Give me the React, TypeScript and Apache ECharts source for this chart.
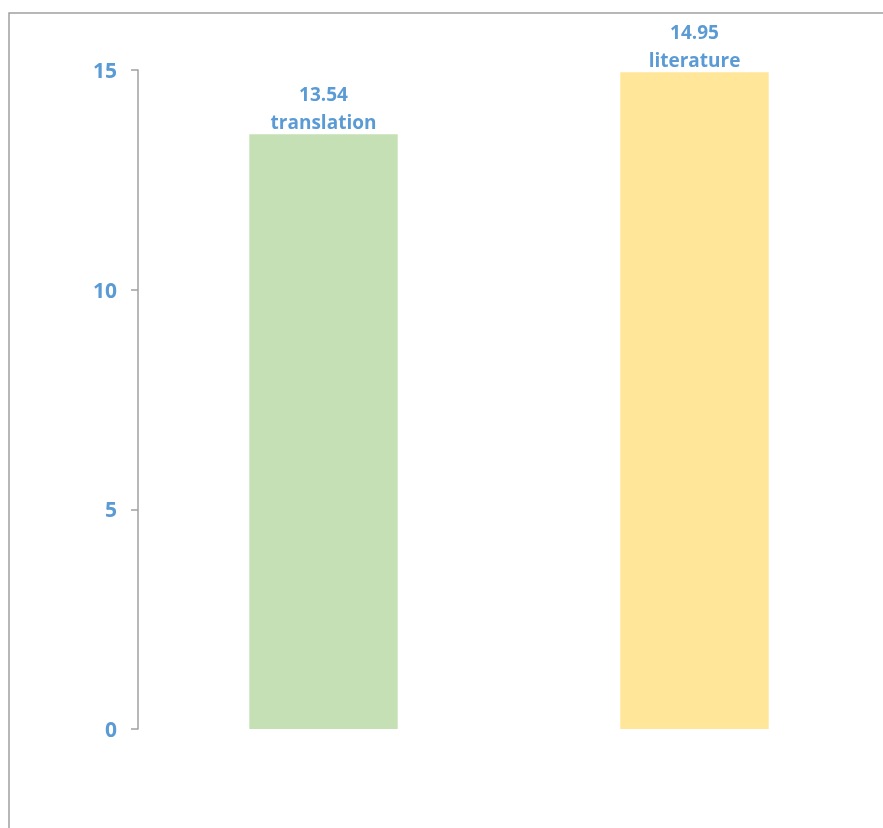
import React, { useEffect, useRef } from "react";
import * as echarts from "echarts";

const categories = ["translation", "literature"];
const values = [13.54, 14.95];
const barColors = ["#C5E0B4", "#FFE699"];
const yTicks = [0, 5, 10, 15];

export default function App() {
  const ref = useRef<HTMLDivElement>(null);
  useEffect(() => {
    const chart = echarts.init(ref.current!, null, { renderer: "svg" });
    const blue = "#5B9BD5";
    chart.setOption({
      animation: false,
      graphic: [
        {
          type: "rect",
          shape: { x: 9, y: 13, width: 1000, height: 1000 },
          style: { fill: "none", stroke: "#a0a0a0", lineWidth: 1.5 },
          silent: true,
        },
      ],
      grid: { left: 138, right: 3, top: 70, bottom: 99, containLabel: false },
      xAxis: {
        type: "category",
        data: categories,
        axisLine: { show: false },
        axisTick: { show: false },
        axisLabel: { show: false },
      },
      yAxis: {
        type: "value",
        min: yTicks[0],
        max: yTicks[yTicks.length - 1],
        interval: 5,
        splitLine: { show: false },
        axisLine: { show: true, lineStyle: { color: "#a0a0a0", width: 1.5 } },
        axisTick: { show: true, length: 7, lineStyle: { color: "#a0a0a0", width: 1.5 } },
        axisLabel: {
          color: blue,
          fontWeight: "bold",
          fontSize: 21,
          fontFamily: "Open Sans",
          margin: 21,
        },
      },
      series: [
        {
          type: "bar",
          barWidth: "40%",
          data: values.map((v, i) => ({ value: v, itemStyle: { color: barColors[i] } })),
          label: {
            show: true,
            position: "top",
            distance: 0,
            offset: [0, 2],
            formatter: "{c}\n{b}",
            color: blue,
            fontWeight: "bold",
            fontSize: 19,
            lineHeight: 28,
            fontFamily: "Open Sans",
          },
        },
      ],
    });
    return () => chart.dispose();
  }, []);
  return (
    <div
      ref={ref}
      style={{ position: "fixed", left: 0, top: 0, width: 883, height: 828 }}
    />
  );
}
